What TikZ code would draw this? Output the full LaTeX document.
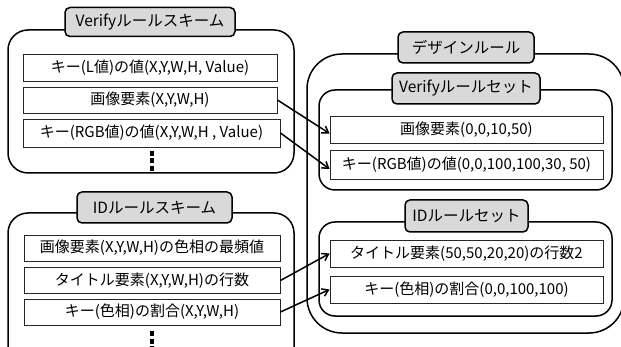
\documentclass[tikz,border=0pt]{standalone}
\usepackage{fontspec}
\setmainfont{Noto Sans CJK JP}
\usetikzlibrary{arrows.meta}
\definecolor{tagfill}{HTML}{D9D9D9}
\begin{document}
\begin{tikzpicture}[x=1pt,y=-1pt,
  panel/.style={draw, line width=1.5pt},
  tag/.style={draw, line width=1.5pt, fill=tagfill, rounded corners=5pt, inner sep=0pt,
    font=\fontsize{15.5}{17}\selectfont},
  item/.style={draw=black!85, line width=0.9pt, fill=white, inner sep=0pt,
    font=\fontsize{15}{17}\selectfont},
  conn/.style={line width=1.5pt, -{Straight Barb[length=6pt,width=8pt]}},
  dot/.style={fill=black}
]
\useasboundingbox (0,0) rectangle (621,347);
\clip (0,0) rectangle (621,347);

% ---- left top panel
\draw[panel, rounded corners=20pt] (8,30) rectangle (294,173);
\node[tag, minimum width=170pt, minimum height=29pt] (vsch) at (150,22) {Verifyルールスキーム};
\node[item, minimum width=254pt, minimum height=27pt] (l1) at (150,67.5) {キー(L値)の値(X,Y,W,H, Value)};
\node[item, minimum width=254pt, minimum height=26pt] (l2) at (150,100) {画像要素(X,Y,W,H)};
\node[item, minimum width=257pt, minimum height=28pt] (l3) at (151.5,133) {キー(RGB値)の値(X,Y,W,H , Value)};
\fill[dot] (150,151) rectangle (154,156);
\fill[dot] (150,158.5) rectangle (154,163.5);
\fill[dot] (150,166) rectangle (154,171);

% ---- left bottom panel
\draw[panel, rounded corners=20pt] (8,213) rectangle (294,380);
\node[tag, minimum width=155pt, minimum height=31pt] (idsch) at (154.5,207.5) {IDルールスキーム};
\node[item, minimum width=256pt, minimum height=26pt] (m1) at (152,248) {画像要素(X,Y,W,H)の色相の最頻値};
\node[item, minimum width=256pt, minimum height=26pt] (m2) at (152,280.5) {タイトル要素(X,Y,W,H)の行数};
\node[item, minimum width=256pt, minimum height=26pt] (m3) at (152,312) {キー(色相)の割合(X,Y,W,H)};
\fill[dot] (150,331) rectangle (154,336);
\fill[dot] (150,338.5) rectangle (154,343.5);
\fill[dot] (150,346) rectangle (154,351);

% ---- right panel
\draw[panel, rounded corners=35pt] (307,54) rectangle (624,333);
\node[tag, minimum width=136pt, minimum height=31pt] (design) at (466,47.5) {デザインルール};

\draw[panel, rounded corners=16pt] (319,90) rectangle (612,190);
\node[tag, minimum width=148pt, minimum height=31pt] (vset) at (466,88.5) {Verifyルールセット};
\node[item, minimum width=273pt, minimum height=27pt] (r1) at (466.5,129.5) {画像要素(0,0,10,50)};
\node[item, minimum width=273pt, minimum height=29pt] (r2) at (466.5,165) {キー(RGB値)の値(0,0,100,100,30, 50)};

\draw[panel, rounded corners=16pt] (319,222) rectangle (612,316);
\node[tag, minimum width=123pt, minimum height=32pt] (idset) at (466.5,216) {IDルールセット};
\node[item, minimum width=273pt, minimum height=27pt] (s1) at (466.5,253.5) {タイトル要素(50,50,20,20)の行数2};
\node[item, minimum width=273pt, minimum height=27pt] (s2) at (466.5,289.5) {キー(色相)の割合(0,0,100,100)};

% ---- connectors
\draw[conn] (l2.east) -- ([yshift=-4pt]r1.west);
\draw[conn] (l3.east) -- ([yshift=-4pt]r2.west);
\draw[conn] (m2.east) -- (s1.west);
\draw[conn] (m3.east) -- (s2.west);
\end{tikzpicture}
\end{document}
